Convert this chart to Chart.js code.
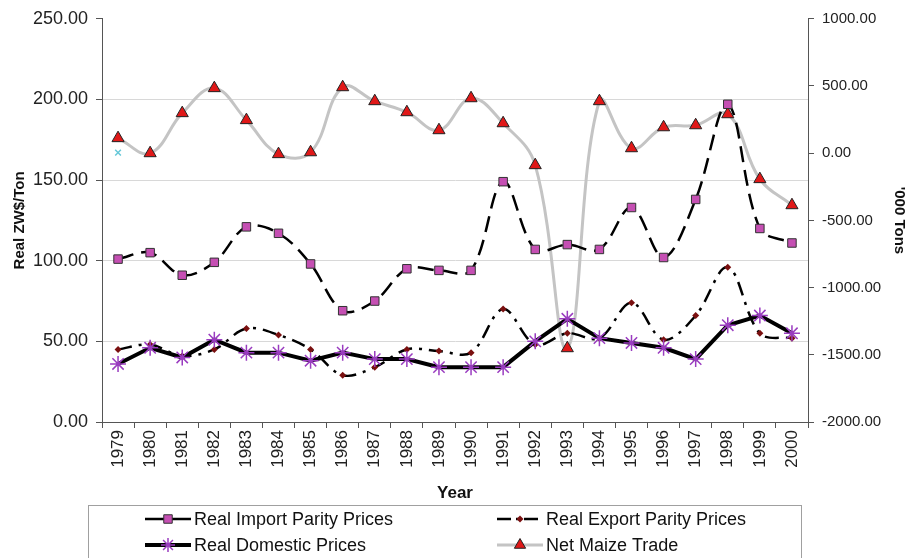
<!DOCTYPE html>
<html>
<head>
<meta charset="utf-8">
<script src="https://cdn.jsdelivr.net/npm/chart.js@4/dist/chart.umd.min.js"></script>
<style>
  html, body { margin: 0; padding: 0; background: #fff; }
  #wrap { width: 908px; height: 558px; }
</style>
</head>
<body>
<div id="wrap"><canvas id="maizeChart" width="908" height="558"></canvas></div>
<script>
const years = ['1979', '1980', '1981', '1982', '1983', '1984', '1985', '1986', '1987', '1988', '1989',
               '1990', '1991', '1992', '1993', '1994', '1995', '1996', '1997', '1998', '1999', '2000'];
const importParity = [101, 105, 91, 99, 121, 117, 98, 69, 75, 95, 94, 94, 149, 107, 110, 107, 133, 102, 138, 197, 120, 111];
const exportParity = [45, 48, 41, 45, 58, 54, 45, 29, 34, 45, 44, 43, 70, 48, 55, 52, 74, 51, 66, 96, 55, 52];
const domesticPrices = [36, 46, 40, 51, 43, 43, 38, 43, 39, 39, 34, 34, 34, 50, 64, 52, 49, 46, 39, 60, 66, 55];
const netMaizeTrade = [112, 0, 298, 484, 246, -7, 7, 491, 387, 305, 171, 409, 223, -89, -1451, 387, 37, 193, 208, 290, -193, -387];
const strayPoint = [167, null, null, null, null, null, null, null, null, null, null,
                    null, null, null, null, null, null, null, null, null, null, null];
const leftTicks = [0, 50, 100, 150, 200, 250];
const rightTicks = [-2000, -1500, -1000, -500, 0, 500, 1000];

const FONT = '"Liberation Sans", Arial, sans-serif';

// legend entries drawn in the boxed area under the chart
const legendItems = [
    { text: 'Real Import Parity Prices', col: 0, row: 0, line: '#000', width: 2.5, dash: [],
      point: { pointStyle: 'rect', radius: 6, borderWidth: 1, fill: '#c54fb3', stroke: '#333' } },
    { text: 'Real Export Parity Prices', col: 1, row: 0, line: '#000', width: 2.5, dash: [14, 5, 3, 5],
      point: { pointStyle: 'rectRot', radius: 3.5, borderWidth: 0, fill: '#7a1010', stroke: '#7a1010' } },
    { text: 'Real Domestic Prices', col: 0, row: 1, line: '#000', width: 4, dash: [],
      point: { pointStyle: 'star', radius: 7, borderWidth: 1.5, fill: '#9a3cc0', stroke: '#9a3cc0' } },
    { text: 'Net Maize Trade', col: 1, row: 1, line: '#c4c4c4', width: 3, dash: [],
      point: { pointStyle: 'triangle', radius: 6.5, borderWidth: 1, fill: '#e01818', stroke: '#222' } }
];

const boxLegend = {
    id: 'boxLegend',
    afterDraw(chart) {
        const ctx = chart.ctx;
        ctx.save();
        ctx.strokeStyle = '#a0a0a0';
        ctx.lineWidth = 1;
        ctx.strokeRect(88.5, 505.5, 713, 70);
        const colX = [145, 497];
        const rowY = [519, 545];
        legendItems.forEach(item => {
            const x0 = colX[item.col];
            const y = rowY[item.row];
            ctx.setLineDash(item.dash);
            ctx.strokeStyle = item.line;
            ctx.lineWidth = item.width;
            ctx.beginPath();
            ctx.moveTo(x0, y);
            ctx.lineTo(x0 + 46, y);
            ctx.stroke();
            ctx.setLineDash([]);
            ctx.fillStyle = item.point.fill;
            ctx.strokeStyle = item.point.stroke;
            ctx.lineWidth = item.point.borderWidth;
            Chart.helpers.drawPoint(ctx, {
                pointStyle: item.point.pointStyle,
                radius: item.point.radius,
                rotation: 0,
                borderWidth: item.point.borderWidth
            }, x0 + 23, y);
            ctx.fillStyle = '#111';
            ctx.font = '18px ' + FONT;
            ctx.textBaseline = 'middle';
            ctx.textAlign = 'left';
            ctx.fillText(item.text, x0 + 49, y + 1);
        });
        ctx.restore();
    }
};

function buildData() {
    return {
        labels: years,
        datasets: [
            {
                label: 'Real Import Parity Prices',
                data: importParity,
                yAxisID: 'y',
                borderColor: '#000',
                borderWidth: 2.5,
                borderDash: [16, 8],
                tension: 0.35,
                pointStyle: 'rect',
                pointRadius: 6,
                pointBorderWidth: 1,
                pointBackgroundColor: '#c54fb3',
                pointBorderColor: '#333',
                order: 1
            },
            {
                label: 'Real Export Parity Prices',
                data: exportParity,
                yAxisID: 'y',
                borderColor: '#000',
                borderWidth: 2.5,
                borderDash: [14, 7, 3, 7],
                tension: 0.35,
                pointStyle: 'rectRot',
                pointRadius: 3.5,
                pointBorderWidth: 0,
                pointBackgroundColor: '#7a1010',
                pointBorderColor: '#7a1010',
                order: 3
            },
            {
                label: 'Real Domestic Prices',
                data: domesticPrices,
                yAxisID: 'y',
                borderColor: '#000',
                borderWidth: 4,
                tension: 0,
                pointStyle: 'star',
                pointRadius: 8,
                pointBorderWidth: 1.5,
                pointBackgroundColor: '#9a3cc0',
                pointBorderColor: '#9a3cc0',
                order: 2
            },
            {
                label: 'Net Maize Trade',
                data: netMaizeTrade,
                yAxisID: 'y1',
                borderColor: '#c4c4c4',
                borderWidth: 3,
                tension: 0.4,
                pointStyle: 'triangle',
                pointRadius: 7,
                pointBorderWidth: 1,
                pointBackgroundColor: '#e01818',
                pointBorderColor: '#222',
                order: 4
            },
            {
                label: 'stray',
                data: strayPoint,
                yAxisID: 'y',
                showLine: false,
                pointStyle: 'crossRot',
                pointRadius: 4,
                pointBorderWidth: 1.5,
                pointBorderColor: '#66c8d8',
                pointBackgroundColor: '#66c8d8',
                order: 5
            }
        ]
    };
}

function createChart(ctx, chartData) {
    return new Chart(ctx, {
        type: 'line',
        data: chartData,
        plugins: [boxLegend],
        options: {
            responsive: false,
            animation: false,
            layout: { padding: { top: 18, bottom: 54, left: 0, right: 0 } },
            plugins: {
                legend: { display: false },
                tooltip: { enabled: false }
            },
            scales: {
                x: {
                    offset: true,
                    grid: { offset: true, drawOnChartArea: false, tickLength: 6, tickColor: '#555' },
                    border: { color: '#555', width: 1 },
                    ticks: { minRotation: 90, maxRotation: 90, autoSkip: false, color: '#222',
                             font: { family: FONT, size: 17 }, padding: 2 },
                    title: { display: true, text: 'Year', color: '#111',
                             font: { family: FONT, size: 17, weight: 'bold' }, padding: { top: 6, bottom: 0 } },
                    afterFit(scale) { scale.height = 82; }
                },
                y: {
                    position: 'left',
                    min: 0,
                    max: 250,
                    afterBuildTicks(scale) { scale.ticks = leftTicks.map(v => ({ value: v })); },
                    grid: {
                        color: c => (c.tick && c.tick.value === 250) ? 'rgba(0,0,0,0)' : '#d8d8d8',
                        tickLength: 6, tickColor: '#555', lineWidth: 1
                    },
                    border: { color: '#555', width: 1 },
                    ticks: { color: '#222', font: { family: FONT, size: 18 }, padding: 8,
                             callback: v => Number(v).toFixed(2) },
                    title: { display: true, text: 'Real ZW$/Ton', color: '#111',
                             font: { family: FONT, size: 15, weight: 'bold' }, padding: { top: 11, bottom: 0 } },
                    afterFit(scale) { scale.width = 102; }
                },
                y1: {
                    position: 'right',
                    min: -2000,
                    max: 1000,
                    afterBuildTicks(scale) { scale.ticks = rightTicks.map(v => ({ value: v })); },
                    grid: { drawOnChartArea: false, tickLength: 6, tickColor: '#555' },
                    border: { color: '#555', width: 1 },
                    ticks: { color: '#222', font: { family: FONT, size: 15 }, padding: 8,
                             callback: v => Number(v).toFixed(2) },
                    title: { display: true, text: "'000 Tons", color: '#111',
                             font: { family: FONT, size: 15, weight: 'bold' }, padding: { top: 0, bottom: 0 } },
                    afterFit(scale) { scale.width = 100; }
                }
            }
        }
    });
}

document.addEventListener('DOMContentLoaded', () => {
    const ctx = document.getElementById('maizeChart').getContext('2d');
    const chartData = buildData();
    createChart(ctx, chartData);
});
</script>
</body>
</html>
